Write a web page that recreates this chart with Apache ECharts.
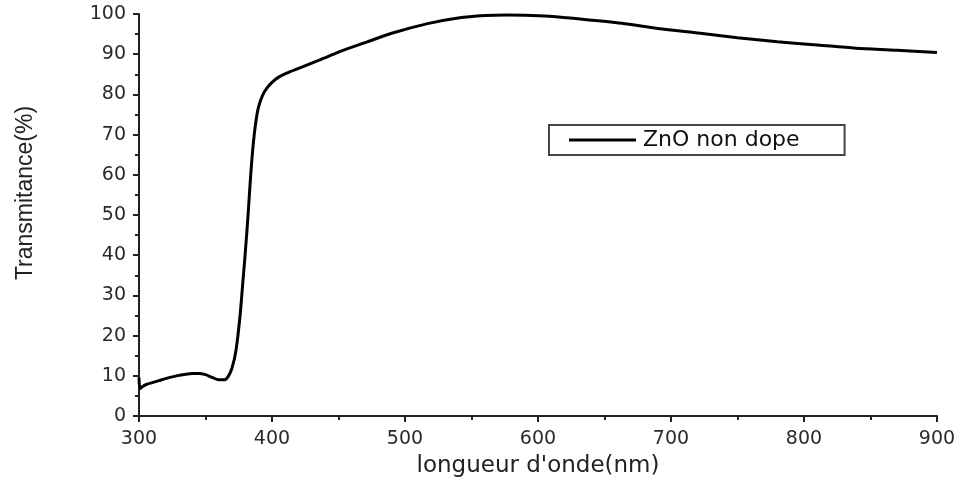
<!DOCTYPE html>
<html>
<head>
<meta charset="utf-8">
<script src="https://cdn.jsdelivr.net/npm/echarts@6/dist/echarts.min.js"></script>
<style>
html,body{margin:0;padding:0;background:#fff;}
#chart{width:962px;height:487px;}
</style>
</head>
<body>
<div id="chart"></div>
<script>
const seriesName = 'ZnO non dope';
const wavelength = [300, 300.8, 303, 306, 310, 315, 320, 330, 340, 345, 350, 355, 360, 364, 367, 370, 373, 376, 378, 380, 382, 384, 386, 388, 390, 393, 396, 400, 405, 411, 420, 436, 450, 458, 471, 490, 517, 540, 560, 576, 605, 630, 663, 690, 722, 750, 780, 810, 839, 870, 900];
const transmittance = [9.6, 6.8, 7.4, 7.9, 8.3, 8.8, 9.3, 10.1, 10.6, 10.6, 10.3, 9.6, 9.0, 9.0, 9.8, 12.0, 16.5, 25.0, 33.0, 41.0, 50.0, 60.0, 68.0, 73.5, 77.0, 79.8, 81.5, 83.0, 84.3, 85.3, 86.5, 88.6, 90.5, 91.5, 93.0, 95.2, 97.6, 99.0, 99.6, 99.75, 99.5, 98.8, 97.7, 96.4, 95.2, 94.1, 93.1, 92.3, 91.5, 91.0, 90.4];
const xTitle = "longueur d'onde(nm)";
const yTitle = 'Transmitance(%)';

const data = wavelength.map((w, i) => [w, transmittance[i]]);
const chart = echarts.init(document.getElementById('chart'));
const wide = 'DejaVu Sans, Liberation Sans, Arial, sans-serif';
const narrow = 'Liberation Sans, Arial, sans-serif';
const axisFont = {fontFamily: wide, fontSize: 19, color: '#2a2a2a'};
chart.setOption({
  animation: false,
  backgroundColor: '#fff',
  grid: {left: 139, right: 25, top: 14, bottom: 71, containLabel: false},
  legend: {
    show: true,
    left: 549, top: 125,
    data: [seriesName],
    icon: 'rect',
    itemWidth: 67, itemHeight: 3,
    itemGap: 6,
    padding: [4, 45, 4, 20],
    borderColor: '#444', borderWidth: 2,
    textStyle: {fontFamily: wide, fontSize: 22, color: '#111', padding: [0, 0, 0, 2]}
  },
  xAxis: {
    type: 'value', min: 300, max: 900, interval: 100,
    name: xTitle, nameLocation: 'middle', nameGap: 39,
    nameTextStyle: {fontFamily: wide, fontSize: 23, color: '#222'},
    axisLine: {show: true, lineStyle: {color: '#222', width: 2}},
    axisTick: {show: true, inside: false, length: 6, lineStyle: {color: '#222', width: 2}},
    minorTick: {show: true, splitNumber: 2, length: 4, lineStyle: {color: '#222', width: 2}},
    axisLabel: Object.assign({margin: 14}, axisFont),
    splitLine: {show: false}
  },
  yAxis: {
    type: 'value', min: 0, max: 100, interval: 10,
    name: yTitle, nameLocation: 'middle', nameGap: 102,
    nameTextStyle: {fontFamily: narrow, fontSize: 23, color: '#222', padding: [0, 0, 0, 44]},
    axisLine: {show: true, lineStyle: {color: '#222', width: 2}},
    axisTick: {show: true, inside: false, length: 6, lineStyle: {color: '#222', width: 2}},
    minorTick: {show: true, splitNumber: 2, length: 4, lineStyle: {color: '#222', width: 2}},
    axisLabel: Object.assign({margin: 13}, axisFont),
    splitLine: {show: false}
  },
  series: [{
    name: seriesName,
    type: 'line',
    data: data,
    showSymbol: false,
    smooth: 0.3,
    itemStyle: {color: '#000'},
    lineStyle: {color: '#000', width: 3}
  }]
});
</script>
</body>
</html>
